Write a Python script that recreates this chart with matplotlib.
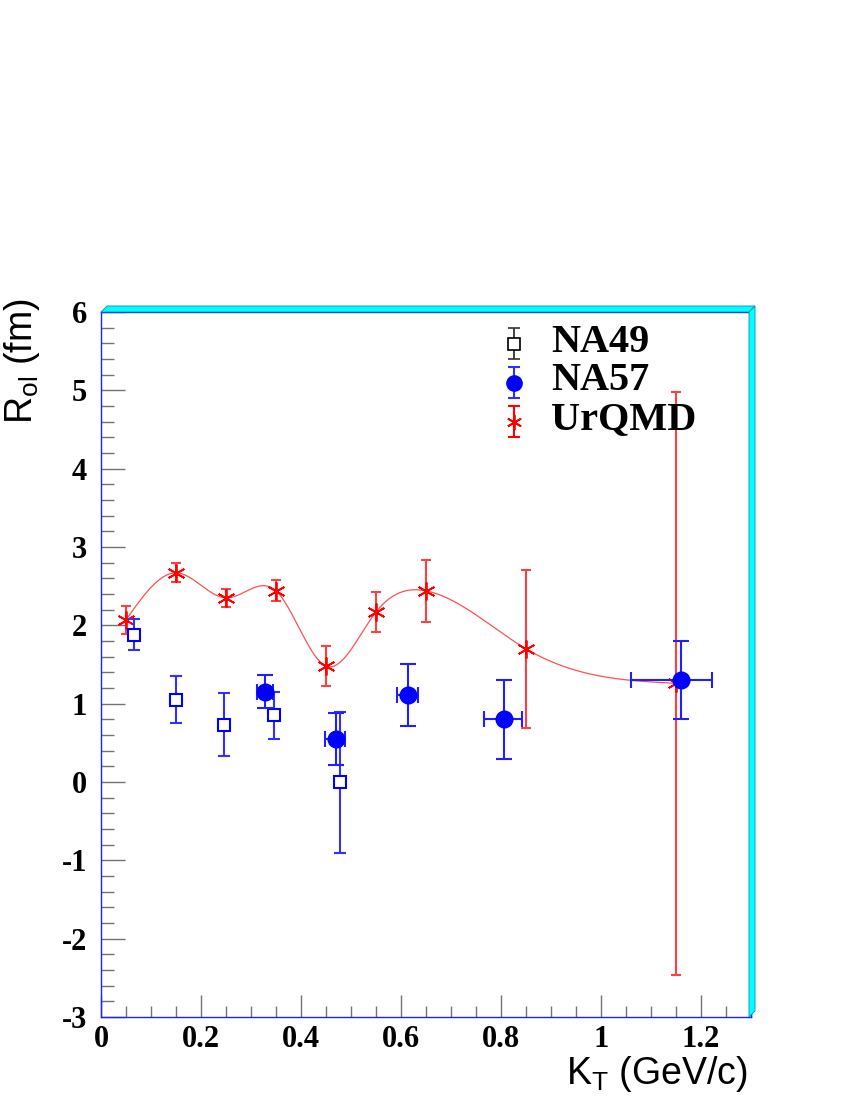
import numpy as np
import matplotlib.pyplot as plt
from matplotlib.patches import Polygon
from matplotlib.ticker import MultipleLocator, FuncFormatter

plt.rcParams['mathtext.default'] = 'regular'

# NA49 (open squares)
na49_kt = [0.065, 0.149, 0.247, 0.347, 0.478]
na49_r = [1.88, 1.05, 0.73, 0.85, 0.00]
na49_err = [0.20, 0.30, 0.40, 0.30, 0.90]

# NA57 (filled circles, x and y errors)
na57_kt = [0.328, 0.470, 0.615, 0.807, 1.161]
na57_r = [1.15, 0.545, 1.11, 0.80, 1.30]
na57_err = [0.21, 0.33, 0.40, 0.50, 0.50]
na57_kt_lo = [0.016, 0.021, 0.023, 0.041, 0.101]
na57_kt_hi = [0.015, 0.019, 0.020, 0.034, 0.062]

# UrQMD (stars + smooth curve)
urqmd_kt = [0.05, 0.15, 0.25, 0.35, 0.45, 0.55, 0.65, 0.85, 1.15]
urqmd_r = [2.07, 2.67, 2.35, 2.44, 1.48, 2.17, 2.44, 1.70, 1.26]
urqmd_err = [0.18, 0.12, 0.12, 0.135, 0.25, 0.26, 0.40, 1.01, 3.72]

legend_names = ['NA49', 'NA57', 'UrQMD']


def natural_spline(x, y, xs):
    x = np.asarray(x, float)
    y = np.asarray(y, float)
    n = len(x)
    h = np.diff(x)
    A = np.zeros((n, n))
    b = np.zeros(n)
    A[0, 0] = A[-1, -1] = 1
    for i in range(1, n - 1):
        A[i, i - 1] = h[i - 1]
        A[i, i] = 2 * (h[i - 1] + h[i])
        A[i, i + 1] = h[i]
        b[i] = 3 * ((y[i + 1] - y[i]) / h[i] - (y[i] - y[i - 1]) / h[i - 1])
    c = np.linalg.solve(A, b)
    bb = (y[1:] - y[:-1]) / h - h * (2 * c[:-1] + c[1:]) / 3
    d = (c[1:] - c[:-1]) / (3 * h)
    idx = np.clip(np.searchsorted(x, xs) - 1, 0, n - 2)
    t = xs - x[idx]
    return y[idx] + bb[idx] * t + c[idx] * t ** 2 + d[idx] * t ** 3


W, H = 850, 1100
fig = plt.figure(figsize=(8.5, 11), dpi=100)
ax = fig.add_axes([101 / W, 1 - 1017 / H, 650 / W, 705 / H])

def fpx(px, py):
    return (px / W, 1 - py / H)

# cyan bevel on top and right of frame
top = [fpx(101, 312), fpx(107, 306), fpx(755, 306), fpx(749, 312)]
right = [fpx(749, 312), fpx(755, 306), fpx(755, 1011), fpx(749, 1017)]
for pts in (top, right):
    fig.patches.append(Polygon(pts, closed=True, transform=fig.transFigure,
                               facecolor='#00ffff', edgecolor='#0090c0',
                               lw=0.6, zorder=0))

# smooth UrQMD curve
xs = np.linspace(urqmd_kt[0], urqmd_kt[-1], 400)
ax.plot(xs, natural_spline(urqmd_kt, urqmd_r, xs), color='#ff5050', lw=0.9, zorder=2)

ax.errorbar(urqmd_kt, urqmd_r, yerr=urqmd_err, fmt='none', ecolor='#ff4040',
            elinewidth=1.5, capsize=3.8, capthick=1.5, zorder=3)
ax.plot(urqmd_kt, urqmd_r, ls='none', marker=(6, 2, 0), ms=13, mew=1.3,
        color='red', zorder=4)

ax.errorbar(na49_kt, na49_r, yerr=na49_err, fmt='s', ms=8, mfc='white',
            mec='blue', mew=1.5, ecolor='#3030ff', elinewidth=1.5,
            capsize=4, capthick=1.5, zorder=5)

ax.errorbar(na57_kt, na57_r, yerr=na57_err, xerr=[na57_kt_lo, na57_kt_hi],
            fmt='o', ms=12, color='blue', ecolor='#2020ff', elinewidth=1.5,
            capsize=5.5, capthick=1.5, zorder=6)

ax.set_xlim(0, 1.3)
ax.set_ylim(-3, 6)

ax.xaxis.set_major_locator(MultipleLocator(0.2))
ax.xaxis.set_minor_locator(MultipleLocator(0.05))
ax.yaxis.set_major_locator(MultipleLocator(1))
ax.yaxis.set_minor_locator(MultipleLocator(0.2))
ax.xaxis.set_major_formatter(FuncFormatter(lambda v, p: '%g' % round(v, 2)))
ax.yaxis.set_major_formatter(FuncFormatter(lambda v, p: '%g' % round(v, 2)))

ax.tick_params(axis='both', which='both', direction='in', color='0.45', width=1,
               top=False, right=False)
ax.tick_params(axis='y', which='major', length=17, pad=10)
ax.tick_params(axis='y', which='minor', length=9)
ax.tick_params(axis='x', which='major', length=16, pad=6)
ax.tick_params(axis='x', which='minor', length=8)
for lab in ax.get_xticklabels() + ax.get_yticklabels():
    lab.set_fontfamily('Liberation Serif')
    lab.set_fontweight('bold')
    lab.set_fontsize(22)

for sp in ax.spines.values():
    sp.set_color('#2020ff')
    sp.set_linewidth(1)

fig.text(22 / W, 1 - 298 / H, r'R$_{ol}$ (fm)', rotation=90, ha='center', va='top',
         fontfamily='Liberation Sans', fontsize=27)
fig.text(748 / W, 1 - 1074 / H, r'K$_{T}$ (GeV/c)', ha='right', va='center',
         fontfamily='Liberation Sans', fontsize=27)

# legend drawn on a pixel-coordinate overlay
lax = fig.add_axes([0, 0, 1, 1], facecolor='none')
lax.set_xlim(0, W)
lax.set_ylim(H, 0)
lax.axis('off')
leg_x = 514.5
leg_rows = [343.5, 382.5, 421.5]
half = 15.5
lax.errorbar([leg_x], [leg_rows[0]], yerr=half, fmt='s', ms=8, mfc='white',
             mec='black', mew=1.2, ecolor='#333333', elinewidth=1.3,
             capsize=4, capthick=1.3)
lax.errorbar([leg_x], [leg_rows[1]], yerr=half, fmt='o', ms=11, color='blue',
             ecolor='#3030ff', elinewidth=1.5, capsize=4, capthick=1.5)
lax.errorbar([leg_x], [leg_rows[2]], yerr=half, fmt='none', ecolor='red',
             elinewidth=1.5, capsize=4, capthick=1.5)
lax.plot([leg_x], [leg_rows[2]], ls='none', marker=(6, 2, 0), ms=11, mew=1.3,
         color='red')
for name, ry in zip(legend_names, leg_rows):
    fig.text(551 / W, 1 - (ry + 8) / H, name, ha='left', va='baseline',
             fontfamily='Liberation Serif', fontweight='bold', fontsize=29)

fig.savefig('out.png', dpi=100)
